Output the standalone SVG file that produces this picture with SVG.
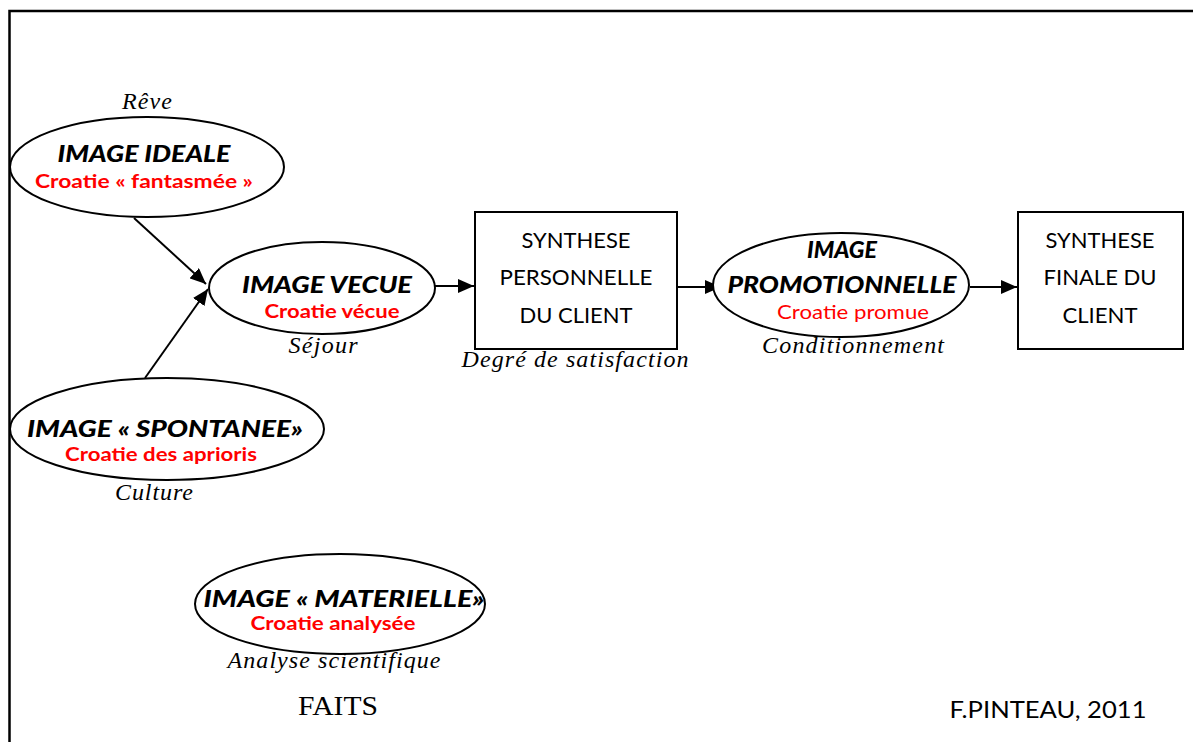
<svg xmlns="http://www.w3.org/2000/svg" width="1193" height="742" viewBox="0 0 1193 742">
<defs>
<marker id="ah" viewBox="0 0 16 14" refX="16" refY="7" markerWidth="16" markerHeight="14" markerUnits="userSpaceOnUse" orient="auto"><path d="M0,0 L16,7 L0,14 Z" fill="#000"/></marker>
<style>
.sh{fill:#fff;stroke:#000;stroke-width:2}
.t{font-family:Lato,"Open Sans",sans-serif;text-anchor:middle}
.bi{font-weight:900;font-style:italic;font-size:23px;fill:#000}
.rb{font-weight:bold;font-size:18px;fill:#f00}
.rr{font-size:19px;fill:#f00}
.bx{font-size:21px;fill:#000}
.s{font-family:"Liberation Serif",serif;font-style:italic;font-size:24px;fill:#000;text-anchor:middle}
.c{stroke:#000;stroke-width:2;fill:none;marker-end:url(#ah)}
</style>
</defs>
<rect width="1193" height="742" fill="#fff"/>
<path d="M9.5,742 V11 H1193" fill="none" stroke="#000" stroke-width="2.5"/>
<g id="connectors">
<line class="c" x1="134" y1="218" x2="206" y2="284"/>
<line class="c" x1="145" y1="378" x2="208" y2="289"/>
<line class="c" x1="435" y1="286" x2="474" y2="286"/>
<line class="c" x1="677" y1="287" x2="721" y2="287"/>
<line class="c" x1="970" y1="287" x2="1017" y2="287"/>
</g>
<g id="ideale">
<ellipse class="sh" cx="147" cy="167" rx="137" ry="50"/>
<text class="s" x="147" y="109" textLength="50">Rêve</text>
<text class="t bi" x="144" y="162" textLength="173" lengthAdjust="spacingAndGlyphs">IMAGE IDEALE</text>
<text class="t rb" x="144" y="188" textLength="218" lengthAdjust="spacingAndGlyphs">Croatie « fantasmée »</text>
</g>
<g id="vecue">
<ellipse class="sh" cx="322" cy="288" rx="113" ry="46"/>
<text class="t bi" x="327" y="293" textLength="170" lengthAdjust="spacingAndGlyphs">IMAGE VECUE</text>
<text class="t rb" x="332" y="318" textLength="135" lengthAdjust="spacingAndGlyphs">Croatie vécue</text>
<text class="s" x="323" y="353" textLength="69">Séjour</text>
</g>
<g id="spontanee">
<ellipse class="sh" cx="167" cy="429" rx="157" ry="51"/>
<text class="t bi" x="165" y="437" textLength="276" lengthAdjust="spacingAndGlyphs">IMAGE « SPONTANEE»</text>
<text class="t rb" x="161" y="461" textLength="192" lengthAdjust="spacingAndGlyphs">Croatie des aprioris</text>
<text class="s" x="154" y="500" textLength="78">Culture</text>
</g>
<g id="synthese-perso">
<rect class="sh" x="475" y="212" width="202" height="137"/>
<text class="t bx" x="576" y="248" textLength="109" lengthAdjust="spacingAndGlyphs">SYNTHESE</text>
<text class="t bx" x="576" y="285" textLength="153" lengthAdjust="spacingAndGlyphs">PERSONNELLE</text>
<text class="t bx" x="576" y="323" textLength="113" lengthAdjust="spacingAndGlyphs">DU CLIENT</text>
<text class="s" x="575" y="367" textLength="227">Degré de satisfaction</text>
</g>
<g id="promo">
<ellipse class="sh" cx="841" cy="285" rx="128" ry="52"/>
<text class="t bi" x="842" y="258" textLength="70" lengthAdjust="spacingAndGlyphs">IMAGE</text>
<text class="t bi" x="842" y="293" textLength="229" lengthAdjust="spacingAndGlyphs">PROMOTIONNELLE</text>
<text class="t rr" x="853" y="319" textLength="152" lengthAdjust="spacingAndGlyphs">Croatie promue</text>
<text class="s" x="853" y="353" textLength="182">Conditionnement</text>
</g>
<g id="synthese-finale">
<rect class="sh" x="1018" y="212" width="165" height="137"/>
<text class="t bx" x="1100" y="248" textLength="109" lengthAdjust="spacingAndGlyphs">SYNTHESE</text>
<text class="t bx" x="1100" y="285" textLength="113" lengthAdjust="spacingAndGlyphs">FINALE DU</text>
<text class="t bx" x="1100" y="323" textLength="75" lengthAdjust="spacingAndGlyphs">CLIENT</text>
</g>
<g id="materielle">
<ellipse class="sh" cx="340" cy="604" rx="145" ry="50"/>
<text class="t bi" x="344" y="607" textLength="281" lengthAdjust="spacingAndGlyphs">IMAGE « MATERIELLE»</text>
<text class="t rb" x="333" y="630" textLength="165" lengthAdjust="spacingAndGlyphs">Croatie analysée</text>
<text class="s" x="334" y="668" textLength="213">Analyse scientifique</text>
</g>
<text x="338" y="715" font-family="Liberation Serif,serif" font-size="27" text-anchor="middle" textLength="80" lengthAdjust="spacingAndGlyphs">FAITS</text>
<text x="1048" y="718" font-family="Lato,sans-serif" font-size="24" text-anchor="middle" textLength="197" lengthAdjust="spacingAndGlyphs">F.PINTEAU, 2011</text>
</svg>
